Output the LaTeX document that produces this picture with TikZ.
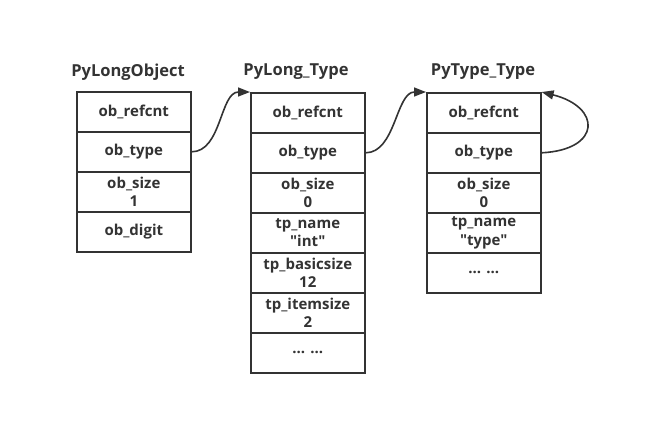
\documentclass[tikz,border=0pt]{standalone}
\usepackage{fontspec}
\setmainfont{Open Sans}[Ligatures=TeXOff]
\usetikzlibrary{arrows.meta}
\definecolor{ink}{HTML}{333333}
\tikzset{
  cell/.style={draw=ink, line width=1.6pt, minimum width=114pt, minimum height=40pt,
    inner sep=0pt, align=center, text=ink, font=\bfseries\fontsize{15}{18.5}\selectfont, anchor=north west},
  title/.style={text=ink, font=\bfseries\fontsize{16.5}{18}\selectfont},
  ptr/.style={draw=ink, line width=1.6pt, -{Triangle[length=12pt,width=9pt]}}
}
\begin{document}
\begin{tikzpicture}[x=1pt,y=-1pt]
\useasboundingbox (0,0) rectangle (660,434);
% PyLongObject
\node[title] (ta) at (128,72) {PyLongObject};
\node[cell] (a1) at (76,91) {ob\_refcnt};
\node[cell] (a2) at (76,131) {ob\_type};
\node[cell] (a3) at (76,171) {ob\_size\\1};
\node[cell] (a4) at (76,211) {ob\_digit};
% PyLong_Type
\node[title] (tb) at (296,72) {PyLong\_Type};
\node[cell] (b1) at (250,92) {ob\_refcnt};
\node[cell] (b2) at (250,132) {ob\_type};
\node[cell] (b3) at (250,172) {ob\_size\\0};
\node[cell] (b4) at (250,212) {tp\_name\\"int"};
\node[cell] (b5) at (250,252) {tp\_basicsize\\12};
\node[cell] (b6) at (250,292) {tp\_itemsize\\2};
\node[cell] (b7) at (250,332) {... ...};
% PyType_Type
\node[title] (tc) at (483,72) {PyType\_Type};
\node[cell] (c1) at (426,92) {ob\_refcnt};
\node[cell] (c2) at (426,132) {ob\_type};
\node[cell] (c3) at (426,172) {ob\_size\\0};
\node[cell] (c4) at (426,212) {tp\_name\\"type"};
\node[cell] (c5) at (426,252) {... ...};
% pointers
\draw[ptr] (a2.east) .. controls +(30,0) and +(-30,0) .. (b1.north west);
\draw[ptr] (b2.east) .. controls +(30,0) and +(-30,0) .. (c1.north west);
\draw[ptr] (c2.east) .. controls +(60,-3) and +(60,15) .. (c1.north east);
\end{tikzpicture}
\end{document}
